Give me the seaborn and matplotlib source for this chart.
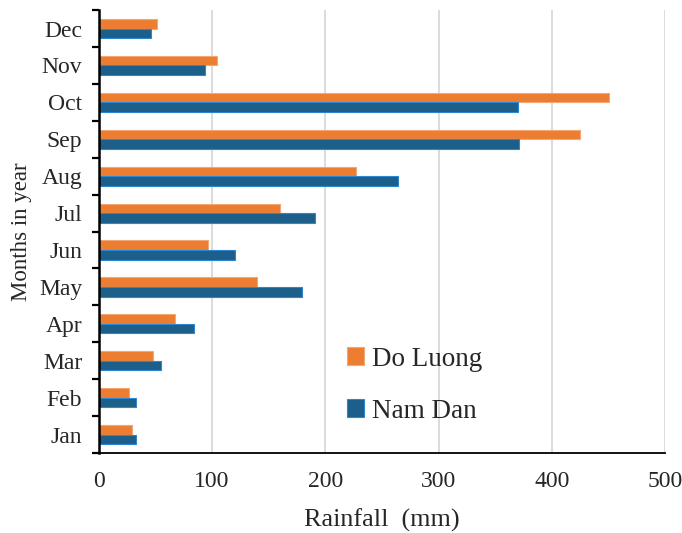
import numpy as np
import pandas as pd
import matplotlib
matplotlib.use("Agg")
import matplotlib.pyplot as plt
import seaborn as sns
from matplotlib.patches import Patch

# Monthly rainfall (mm) at two stations
months = ["Jan", "Feb", "Mar", "Apr", "May", "Jun",
          "Jul", "Aug", "Sep", "Oct", "Nov", "Dec"]
do_luong = [29, 27, 48, 67, 140, 96, 160, 227, 425, 451, 104, 51]
nam_dan = [33, 33, 55, 84, 179, 120, 191, 264, 371, 370, 94, 46]
stations = ["Do Luong", "Nam Dan"]
x_ticks = [0, 100, 200, 300, 400, 500]

fill_colors = {"Do Luong": "#ED7D31", "Nam Dan": "#1C5F8A"}
edge_colors = {"Do Luong": "#F3A774", "Nam Dan": "#2E86D0"}

df = pd.DataFrame({
    "Month": months * 2,
    "Rainfall": do_luong + nam_dan,
    "Station": [stations[0]] * len(months) + [stations[1]] * len(months),
})

sns.set_style("white")
plt.rcParams["font.family"] = ["Liberation Serif", "DejaVu Serif"]

fig = plt.figure(figsize=(6.82, 5.33), dpi=100)
ax = fig.add_axes([0.145, 0.150, 0.830, 0.831])

sns.barplot(data=df, y="Month", x="Rainfall", hue="Station",
            order=months[::-1], hue_order=stations,
            palette=fill_colors, orient="h", width=0.52,
            saturation=1, errorbar=None, legend=False, ax=ax, zorder=3)

for container, st in zip(ax.containers, stations):
    for bar in container:
        bar.set_edgecolor(edge_colors[st])
        bar.set_linewidth(0.8)

ax.set_xlim(0, 500)
ax.set_xticks(x_ticks)
ax.set_xticklabels([str(v) for v in x_ticks], fontsize=17)
ax.tick_params(axis="x", length=0, pad=13)
ax.xaxis.grid(True, color="#D9D9D9", linewidth=1.3, zorder=0)
ax.set_axisbelow(True)

n = len(months)
ax.set_ylim(n - 0.5, -0.5)
ax.set_yticks(np.arange(-0.5, n, 1.0))
ax.set_yticklabels([])
ax.set_yticks(np.arange(n), minor=True)
ax.set_yticklabels(months[::-1], minor=True, fontsize=17)
ax.tick_params(axis="y", which="major", length=5, width=1.6,
               direction="out", color="black", left=True)
ax.tick_params(axis="y", which="minor", length=0, pad=12)

for side in ["top", "right"]:
    ax.spines[side].set_visible(False)
ax.spines["left"].set_color("black")
ax.spines["left"].set_linewidth(1.8)
ax.spines["bottom"].set_color("black")
ax.spines["bottom"].set_linewidth(1.3)
ax.spines["left"].set_zorder(5)

ax.set_xlabel("Rainfall  (mm)", fontsize=18.8, labelpad=12)
ax.set_ylabel("Months in year", fontsize=16.5, labelpad=5)

handles = [Patch(facecolor=fill_colors[s], edgecolor=edge_colors[s], linewidth=0.8)
           for s in stations]
ax.legend(handles, stations, loc="upper left", bbox_to_anchor=(0.42, 0.265),
          frameon=False, fontsize=19.5, handlelength=0.6, handleheight=0.6,
          handletextpad=0.3, labelspacing=1.0, borderaxespad=0)

fig.savefig("out.png", dpi=100)
